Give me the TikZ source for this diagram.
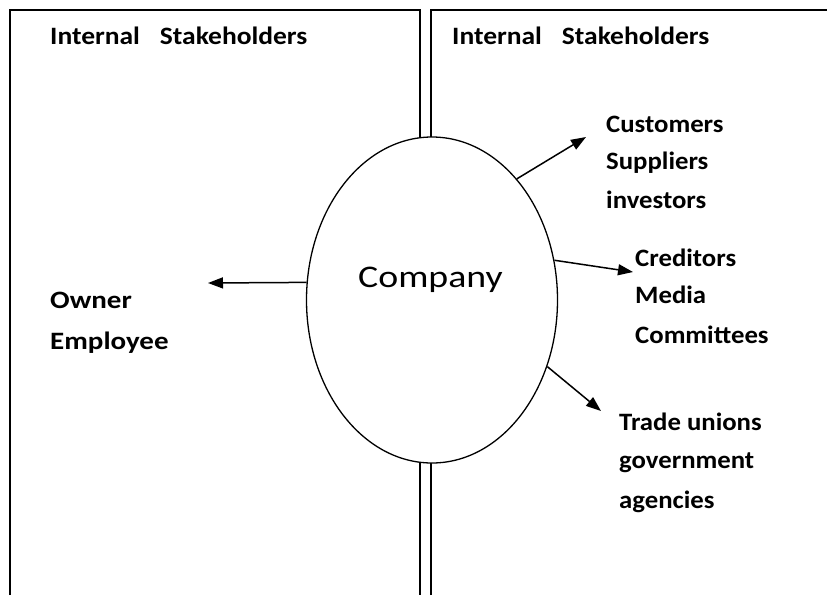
\documentclass[tikz,border=0pt]{standalone}
\usepackage{fontspec}
\setmainfont{Carlito}
\newfontfamily\lblfont{Carlito}[FakeStretch=1.07]
\newfontfamily\lblwide{Carlito}[FakeStretch=1.16]
\newfontfamily\hdrfont{Carlito}[FakeStretch=1.1,WordSpace=3.2]
\newfontfamily\compfont{Carlito}[FakeStretch=1.2]
\usetikzlibrary{shapes.geometric,arrows.meta}
\begin{document}
\begin{tikzpicture}[x=1pt,y=-1pt,
  frame/.style={line width=1.6pt},
  lbl/.style={anchor=base west,inner sep=0pt,font=\lblfont\fontsize{25}{25}\selectfont\bfseries},
  lblw/.style={lbl,font=\lblwide\fontsize{25}{25}\selectfont\bfseries},
  hdr/.style={lbl,font=\hdrfont\fontsize{25}{25}\selectfont\bfseries},
  arr/.style={line width=1.5pt,-{Triangle[length=15pt,width=11pt]}}]
\useasboundingbox (0,0) rectangle (827,595);
% frames
\coordinate (lb) at (10,595);
\coordinate (lt) at (10,10);
\coordinate (mt) at (420,10);
\coordinate (mb) at (420,595);
\coordinate (rt) at (431,10);
\coordinate (rb) at (431,595);
\coordinate (re) at (827,10);
\draw[frame] (lb) -- (lt) -- (mt) -- (mb);
\draw[frame] (rb) -- (rt) -- (re);
% company
\node[ellipse,draw,line width=1.3pt,fill=white,minimum width=251pt,minimum height=326pt,inner sep=0pt] (e) at (432,300) {};
\node[anchor=base west,inner sep=0pt,font=\compfont\fontsize{31.5}{31.5}\selectfont] (comp) at (358,287) {Company};
% headers
\node[hdr] (h1) at (50,44) {Internal Stakeholders};
\node[hdr] (h2) at (452,44) {Internal Stakeholders};
% left
\node[lblw] (own) at (50,308) {Owner};
\node[lblw] (emp) at (50,349) {Employee};
% right group 1
\node[lbl] (cus) at (606,132) {Customers};
\node[lbl] (sup) at (606,169) {Suppliers};
\node[lbl] (inv) at (606,208) {investors};
% group 2
\node[lbl] (cre) at (635,266) {Creditors};
\node[lbl] (med) at (635,303) {Media};
\node[lbl] (com) at (635,343) {Committees};
% group 3
\node[lbl] (tra) at (619,430) {Trade unions};
\node[lbl] (gov) at (619,468) {government};
\node[lbl] (age) at (619,508) {agencies};
% arrow targets
\coordinate (a0) at (208,283);
\coordinate (a1) at (586,137);
\coordinate (a2) at (633,272);
\coordinate (a3) at (601,411);
\draw[arr] (e.172.3) -- (a0);
\draw[arr] (e.55.8) -- (a1);
\draw[arr] (e.18) -- (a2);
\draw[arr] (e.-30) -- (a3);
\end{tikzpicture}
\end{document}
